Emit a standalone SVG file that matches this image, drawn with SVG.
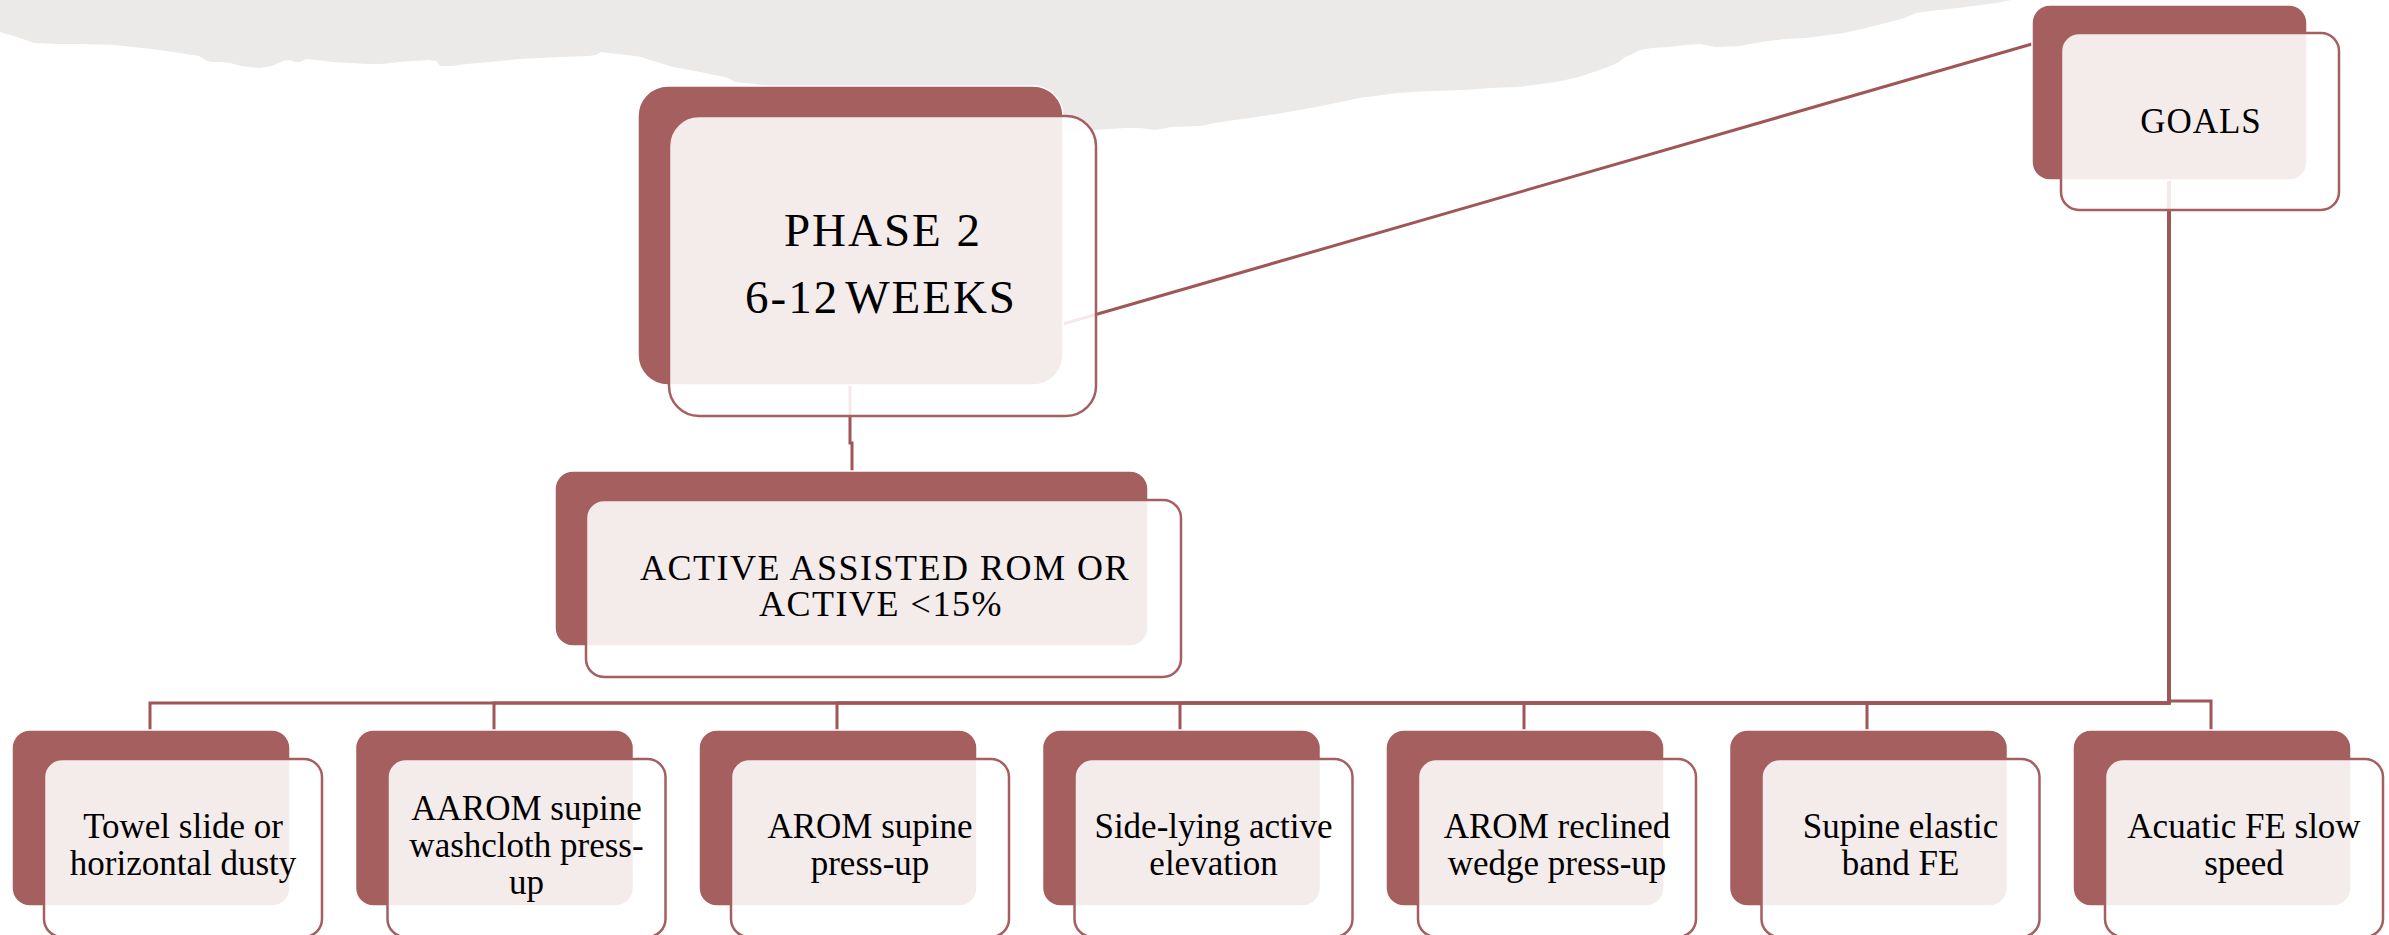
<svg xmlns="http://www.w3.org/2000/svg" width="2389" height="935" viewBox="0 0 2389 935">
  <style>
    .back { fill: #A65F5F; stroke: #ffffff; stroke-width: 1.5; }
    .front { fill: #ffffff; fill-opacity: 0.88; stroke: #A65F5F; stroke-width: 2.5; }
    .conn { fill: none; stroke: #A05656; stroke-width: 3; }
    .t { font-family: "Liberation Serif", "DejaVu Serif", serif; fill: #000000; text-anchor: middle; }
    .head { font-size: 47px; letter-spacing: 2px; }
    .sub { font-size: 36px; letter-spacing: 1.5px; }
    .goal { font-size: 35px; letter-spacing: 1px; }
    .leaf { font-size: 35px; }
  </style>

  <!-- torn paper strip along the top edge -->
  <path id="paper" fill="#EBEAE8" d="M0,0 H2011 L1996,3 1958,8 1930,11 1916,13 1905,18 1897,20 1870,27 1844,33 1806,38 1785,39 1761,42 1740,46 1716,47 1700,44 1685,45 1670,47 1652,48 1640,50 1632,54 1625,57 1619,62 1613,65 1594,72 1575,78 1556,82 1518,87 1490,88 1465,90 1430,91 1397,93 1375,96 1359,98 1336,103 1300,110 1257,117 1235,120 1215,123 1200,126 1171,127 1155,130 1140,128 1125,128 1063,132 1000,120 900,104 800,90 746,83 735,82 728,78 719,76 700,72 673,67 660,63 650,60 641,57 635,56 618,54 601,52 596,55 589,56 560,57 520,59 490,62 467,64 452,66 440,66 436,61 428,60 398,62 382,64 367,64 350,63 333,62 316,60 306,59 300,62 295,62 290,60 283,61 272,66 260,68 250,67 241,66 230,63 222,62 212,62 207,61 199,56 160,50 115,45 80,44 57,44 34,43 20,38 0,32 Z"/>

  <g id="connectors">
    <path class="conn" d="M1063,324 L2032,44"/>
    <path class="conn" d="M850,385 V443 H852 V471"/>
    <path class="conn" d="M2169,180 V703 H150 V730"/>
    <path class="conn" d="M2169,180 V703 H494 V730"/>
    <path class="conn" d="M2169,180 V703 H837 V730"/>
    <path class="conn" d="M2169,180 V703 H1180 V730"/>
    <path class="conn" d="M2169,180 V703 H1524 V730"/>
    <path class="conn" d="M2169,180 V703 H1867 V730"/>
    <path class="conn" d="M2169,180 V701 H2211 V730"/>
  </g>

  <g id="phase">
    <rect class="back" x="638" y="86" width="425" height="299" rx="30"/>
    <rect class="front" x="669" y="116" width="427" height="300" rx="30"/>
    <text class="t head" x="883" y="246">PHASE 2</text>
    <text class="t head" x="881" y="313">6-12<tspan dx="6">WEEKS</tspan></text>
  </g>

  <g id="goals">
    <rect class="back" x="2032" y="5" width="275" height="175" rx="18"/>
    <rect class="front" x="2061" y="33" width="278" height="177" rx="18"/>
    <text class="t goal" x="2201" y="133">GOALS</text>
  </g>

  <g id="active">
    <rect class="back" x="555" y="471" width="593" height="175" rx="18"/>
    <rect class="front" x="586" y="500" width="595" height="177" rx="18"/>
    <text class="t sub" x="885" y="580">ACTIVE ASSISTED ROM OR</text>
    <text class="t sub" x="881" y="616">ACTIVE &lt;15%</text>
  </g>

  <g id="towel">
    <rect class="back" x="12" y="730" width="278" height="176" rx="18"/>
    <rect class="front" x="44" y="759" width="278" height="178" rx="18"/>
    <text class="t leaf" x="183" y="838">Towel slide or</text>
    <text class="t leaf" x="183" y="875">horizontal dusty</text>
  </g>

  <g id="aarom-washcloth">
    <rect class="back" x="355.5" y="730" width="278" height="176" rx="18"/>
    <rect class="front" x="387.5" y="759" width="278" height="178" rx="18"/>
    <text class="t leaf" x="526.5" y="820">AAROM supine</text>
    <text class="t leaf" x="526.5" y="857">washcloth press-</text>
    <text class="t leaf" x="526.5" y="894">up</text>
  </g>

  <g id="arom-supine">
    <rect class="back" x="699" y="730" width="278" height="176" rx="18"/>
    <rect class="front" x="731" y="759" width="278" height="178" rx="18"/>
    <text class="t leaf" x="870" y="838">AROM supine</text>
    <text class="t leaf" x="870" y="875">press-up</text>
  </g>

  <g id="side-lying">
    <rect class="back" x="1042.5" y="730" width="278" height="176" rx="18"/>
    <rect class="front" x="1074.5" y="759" width="278" height="178" rx="18"/>
    <text class="t leaf" x="1213.5" y="838">Side-lying active</text>
    <text class="t leaf" x="1213.5" y="875">elevation</text>
  </g>

  <g id="arom-wedge">
    <rect class="back" x="1386" y="730" width="278" height="176" rx="18"/>
    <rect class="front" x="1418" y="759" width="278" height="178" rx="18"/>
    <text class="t leaf" x="1557" y="838">AROM reclined</text>
    <text class="t leaf" x="1557" y="875">wedge press-up</text>
  </g>

  <g id="elastic-band">
    <rect class="back" x="1729.5" y="730" width="278" height="176" rx="18"/>
    <rect class="front" x="1761.5" y="759" width="278" height="178" rx="18"/>
    <text class="t leaf" x="1900.5" y="838">Supine elastic</text>
    <text class="t leaf" x="1900.5" y="875">band FE</text>
  </g>

  <g id="aquatic">
    <rect class="back" x="2073" y="730" width="278" height="176" rx="18"/>
    <rect class="front" x="2105" y="759" width="278" height="178" rx="18"/>
    <text class="t leaf" x="2244" y="838">Acuatic FE slow</text>
    <text class="t leaf" x="2244" y="875">speed</text>
  </g>
</svg>
